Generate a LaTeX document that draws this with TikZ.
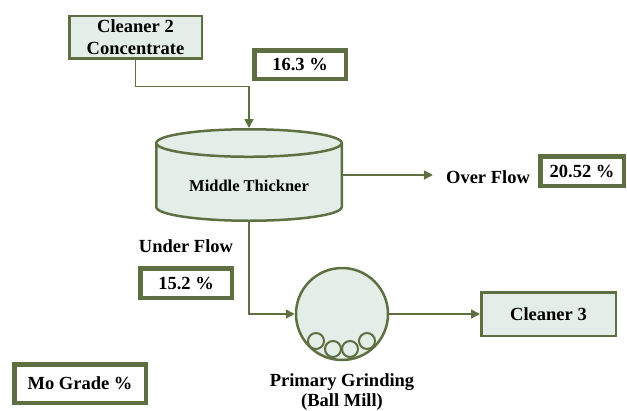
\documentclass[tikz,border=0pt]{standalone}
\usepackage{fontspec}
\setmainfont{Liberation Serif}
\usetikzlibrary{calc,positioning,arrows,arrows.meta,shapes}
\definecolor{olv}{RGB}{94,112,66}
\definecolor{pale}{RGB}{226,238,231}

\begin{document}
\begin{tikzpicture}[x=1pt, y=-1pt, >={Triangle[length=9pt,width=9pt]}]
\tikzstyle{every node}=[font=\fontsize{18.5}{22}\selectfont\bfseries, inner sep=0pt]
\tikzstyle{unit}=[draw=olv, fill=pale, line width=2.5pt, align=center]
\tikzstyle{grade}=[draw=olv, fill=white, line width=4.5pt]
\tikzstyle{flow}=[draw=olv, line width=1.5pt, ->]
\useasboundingbox (0,0) rectangle (627,410);
\node[unit, minimum width=132.5pt, minimum height=42.5pt] (C2) at (135.5,37) {Cleaner 2\\Concentrate};
\node[grade, minimum width=91.5pt, minimum height=28.5pt] (G1) at (300,64.5) {16.3 \%};
\node[unit, cylinder, shape border rotate=90, aspect=0.23, minimum width=185.5pt, minimum height=91.5pt,
      anchor=shape center, font=\fontsize{16.5}{20}\selectfont\bfseries] (T) at (249,175) {\phantom{Middle Thickner}};
\node[font=\fontsize{16.5}{20}\selectfont\bfseries] (TL) at (249,186) {Middle Thickner};
\node (OF) at (488,177) {Over Flow};
\node[grade, minimum width=83.5pt, minimum height=29.5pt] (G2) at (582,171) {20.52 \%};
\node (UF) at (186,246) {Under Flow};
\node[grade, minimum width=91.5pt, minimum height=29.5pt] (G3) at (186,283) {15.2 \%};
\node[unit, circle, minimum size=92pt] (M) at (342,314) {};
\foreach \dx/\dy [count=\i] in {-26/27,-9/35,8/35,25/27}
  \node[draw=olv, fill=pale, line width=2pt, circle, minimum size=16pt] (B\i) at ($(M)+(\dx,\dy)$) {};
\node[align=center, font=\fontsize{18.5}{20}\selectfont\bfseries] (ML) at (342,392) {Primary Grinding\\(Ball Mill)};
\node[unit, minimum width=134.5pt, minimum height=43.5pt] (C3) at (548.5,314) {Cleaner 3};
\node[grade, minimum width=131.5pt, minimum height=38.5pt] (G4) at (80,383.5) {Mo Grade \%};
\draw[flow] (C2.south) -- ++(0,27) -| (T.top);
\draw[flow, shorten >=13pt] (T.shape center -| T.east) -- (T.shape center -| OF.west);
\draw[flow] (T.bottom) |- (M.west);
\draw[flow] (M.east) -- (C3.west);
\end{tikzpicture}
\end{document}
